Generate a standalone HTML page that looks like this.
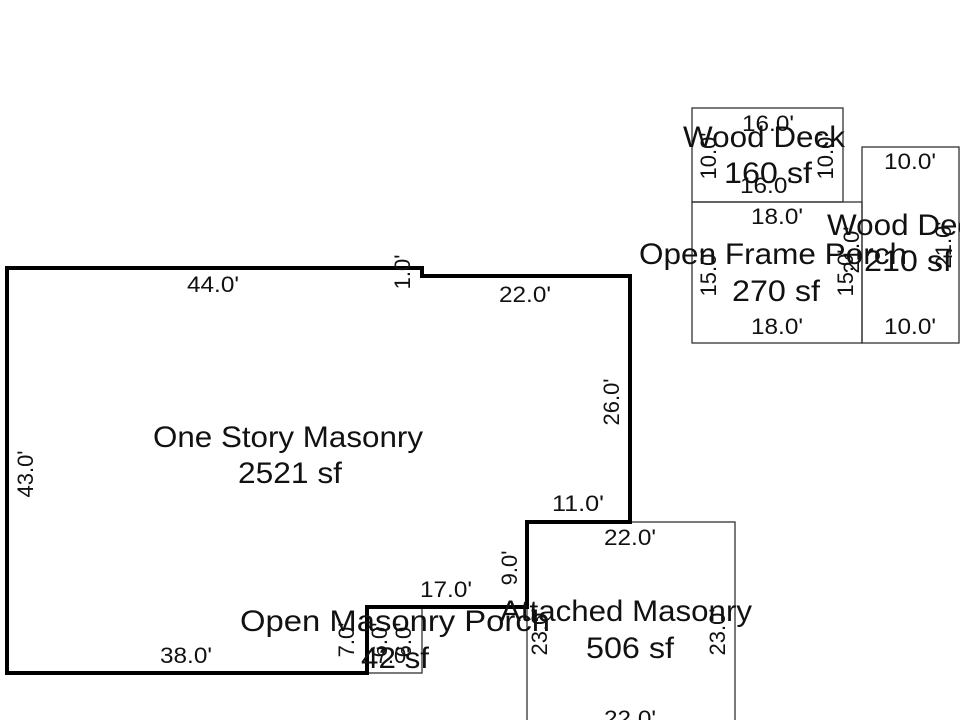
<!DOCTYPE html>
<html><head><meta charset="utf-8"><style>html,body{margin:0;padding:0;background:#fff}svg{display:block}</style></head>
<body>
<svg width="960" height="720" viewBox="0 0 960 720" xmlns="http://www.w3.org/2000/svg" font-family="Liberation Sans, Arial, sans-serif" fill="#111">
<g fill="none" stroke="#333" stroke-width="1.3">
<rect x="692" y="108" width="151" height="94"/>
<rect x="692" y="202" width="170" height="141"/>
<rect x="862" y="147" width="97" height="196"/>
<rect x="527" y="522" width="208" height="210"/>
<rect x="367" y="607" width="55" height="66"/>
</g>
<path d="M7,268 L422,268 L422,276 L630,276 L630,522 L527,522 L527,607 L367,607 L367,673 L7,673 Z" fill="none" stroke="#000" stroke-width="4"/>
<g font-size="22">
<text x="213" y="292" text-anchor="middle" textLength="52" lengthAdjust="spacingAndGlyphs">44.0'</text>
<text x="525" y="302" text-anchor="middle" textLength="52" lengthAdjust="spacingAndGlyphs">22.0'</text>
<text x="578" y="511" text-anchor="middle" textLength="52" lengthAdjust="spacingAndGlyphs">11.0'</text>
<text x="630" y="545" text-anchor="middle" textLength="52" lengthAdjust="spacingAndGlyphs">22.0'</text>
<text x="446" y="597" text-anchor="middle" textLength="52" lengthAdjust="spacingAndGlyphs">17.0'</text>
<text x="186" y="663" text-anchor="middle" textLength="52" lengthAdjust="spacingAndGlyphs">38.0'</text>
<text x="768" y="131" text-anchor="middle" textLength="52" lengthAdjust="spacingAndGlyphs">16.0'</text>
<text x="766" y="193" text-anchor="middle" textLength="52" lengthAdjust="spacingAndGlyphs">16.0'</text>
<text x="777" y="224" text-anchor="middle" textLength="52" lengthAdjust="spacingAndGlyphs">18.0'</text>
<text x="777" y="334" text-anchor="middle" textLength="52" lengthAdjust="spacingAndGlyphs">18.0'</text>
<text x="910" y="169" text-anchor="middle" textLength="52" lengthAdjust="spacingAndGlyphs">10.0'</text>
<text x="910" y="334" text-anchor="middle" textLength="52" lengthAdjust="spacingAndGlyphs">10.0'</text>
<text x="630" y="726" text-anchor="middle" textLength="52" lengthAdjust="spacingAndGlyphs">22.0'</text>
<text transform="translate(33,474) rotate(-90)" text-anchor="middle">43.0'</text>
<text transform="translate(619,402) rotate(-90)" text-anchor="middle">26.0'</text>
<text transform="translate(410,272) rotate(-90)" text-anchor="middle">1.0'</text>
<text transform="translate(517,568) rotate(-90)" text-anchor="middle">9.0'</text>
<text transform="translate(547,632) rotate(-90)" text-anchor="middle">23.0'</text>
<text transform="translate(725,632) rotate(-90)" text-anchor="middle">23.0'</text>
<text transform="translate(716,156) rotate(-90)" text-anchor="middle">10.0'</text>
<text transform="translate(833,156) rotate(-90)" text-anchor="middle">10.0'</text>
<text transform="translate(716,273) rotate(-90)" text-anchor="middle">15.0'</text>
<text transform="translate(853,273) rotate(-90)" text-anchor="middle">15.0'</text>
<text transform="translate(859,250) rotate(-90)" text-anchor="middle">21.0'</text>
<text transform="translate(951,245) rotate(-90)" text-anchor="middle">21.0'</text>
<text transform="translate(354,640) rotate(-90)" text-anchor="middle">7.0'</text>
<text transform="translate(387,640) rotate(-90)" text-anchor="middle">6.0'</text>
<text transform="translate(411,640) rotate(-90)" text-anchor="middle">6.0'</text>
<text x="393" y="663" text-anchor="middle">7.0'</text>
</g>
<g font-size="30" text-anchor="middle">
<text x="288" y="447" textLength="270" lengthAdjust="spacingAndGlyphs">One Story Masonry</text>
<text x="290" y="483" textLength="104" lengthAdjust="spacingAndGlyphs">2521 sf</text>
<text x="395" y="631" textLength="310" lengthAdjust="spacingAndGlyphs">Open Masonry Porch</text>
<text x="395" y="668" textLength="68" lengthAdjust="spacingAndGlyphs">42 sf</text>
<text x="626" y="621" textLength="252" lengthAdjust="spacingAndGlyphs">Attached Masonry</text>
<text x="630" y="658" textLength="88" lengthAdjust="spacingAndGlyphs">506 sf</text>
<text x="764" y="147" textLength="162" lengthAdjust="spacingAndGlyphs">Wood Deck</text>
<text x="768" y="183" textLength="88" lengthAdjust="spacingAndGlyphs">160 sf</text>
<text x="773" y="264" textLength="268" lengthAdjust="spacingAndGlyphs">Open Frame Porch</text>
<text x="776" y="301" textLength="88" lengthAdjust="spacingAndGlyphs">270 sf</text>
<text x="908" y="235" textLength="162" lengthAdjust="spacingAndGlyphs">Wood Deck</text>
<text x="908" y="271" textLength="88" lengthAdjust="spacingAndGlyphs">210 sf</text>
</g>
</svg>
</body></html>
